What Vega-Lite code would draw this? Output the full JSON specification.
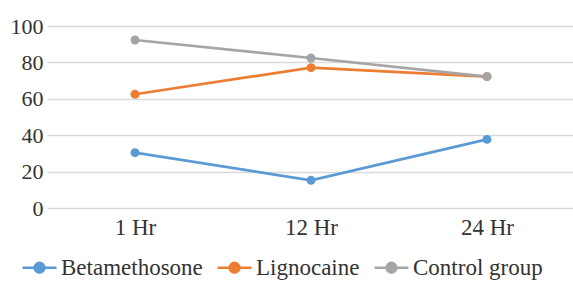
{
  "$schema": "https://vega.github.io/schema/vega-lite/v6.json",
  "width": 528,
  "height": 182,
  "autosize": "none",
  "padding": {"left": 47, "top": 26, "right": 0, "bottom": 73},
  "background": "white",
  "config": {
    "view": {"stroke": null},
    "font": "Liberation Serif",
    "axis": {"labelFont": "Liberation Serif", "labelFontSize": 21, "labelColor": "#333333"},
    "legend": {"labelFont": "Liberation Serif", "labelFontSize": 23, "labelColor": "#333333"}
  },
  "data": {
    "values": [
      {"time": "1 Hr", "group": "Betamethosone", "value": 30.4},
      {"time": "12 Hr", "group": "Betamethosone", "value": 15.2},
      {"time": "24 Hr", "group": "Betamethosone", "value": 37.7},
      {"time": "1 Hr", "group": "Lignocaine", "value": 62.5},
      {"time": "12 Hr", "group": "Lignocaine", "value": 77.1},
      {"time": "24 Hr", "group": "Lignocaine", "value": 72.2},
      {"time": "1 Hr", "group": "Control group", "value": 92.3},
      {"time": "12 Hr", "group": "Control group", "value": 82.4},
      {"time": "24 Hr", "group": "Control group", "value": 72.2}
    ]
  },
  "mark": {"type": "line", "strokeWidth": 2.7, "point": {"size": 80, "filled": true, "opacity": 1}},
  "encoding": {
    "x": {
      "field": "time", "type": "ordinal", "sort": ["1 Hr", "12 Hr", "24 Hr"],
      "scale": {"type": "point", "padding": 0.5},
      "axis": {"title": null, "domain": false, "ticks": false, "grid": false, "labelAngle": 0, "labelPadding": 8, "labelFontSize": 23}
    },
    "y": {
      "field": "value", "type": "quantitative",
      "scale": {"domain": [0, 100]},
      "axis": {"title": null, "domain": false, "ticks": false, "values": [0, 20, 40, 60, 80, 100], "gridColor": "#d9d9d9", "gridWidth": 1.5, "labelPadding": 4, "labelFontSize": 22}
    },
    "color": {
      "field": "group", "type": "nominal",
      "sort": ["Betamethosone", "Lignocaine", "Control group"],
      "scale": {"domain": ["Betamethosone", "Lignocaine", "Control group"], "range": ["#5B9BD5", "#ED7D31", "#A5A5A5"]},
      "legend": {
        "title": null, "orient": "none", "direction": "horizontal", "legendX": -26, "legendY": 223,
        "symbolType": "M-1,0H1M0.29,0A0.29,0.29 0 1,1 -0.29,0A0.29,0.29 0 1,1 0.29,0Z",
        "symbolStrokeWidth": 2.5, "symbolSize": 1156, "columnPadding": 9, "labelOffset": 3,
        "encode": {"symbols": {"update": {"fill": {"scale": "color", "field": "value"}}}}
      }
    }
  }
}
